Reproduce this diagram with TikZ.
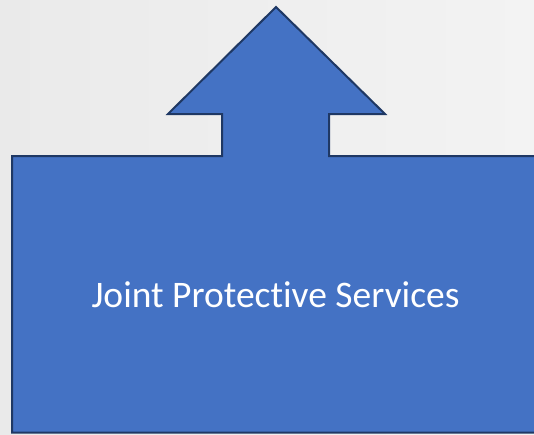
\documentclass[tikz,border=0pt]{standalone}
\usepackage{fontspec}
\setmainfont{Carlito}[Ligatures={NoCommon}]
\definecolor{boxfill}{HTML}{4472C4}
\definecolor{boxline}{HTML}{1F3864}
\definecolor{bgleft}{HTML}{EAEAEA}
\definecolor{bgright}{HTML}{F3F3F3}
\begin{document}
\begin{tikzpicture}[x=1pt,y=-1pt,
  callout/.style={fill=boxfill,draw=boxline,line width=2pt,line join=miter},
  label/.style={text=white,font=\fontsize{37.5}{42}\selectfont,inner sep=0pt}]
  \useasboundingbox (0,0) rectangle (534,434);
  \clip (0,0) rectangle (534,434);
  % soft left-to-right backdrop
  \shade[left color=bgleft,right color=bgright] (0,0) rectangle (534,434);
  % box with an upward arrow on its top edge
  \path[callout] (12,156) -- (222,156) -- (222,114) -- (168,114) -- (276,7)
    -- (385,114) -- (329,114) -- (329,156) -- (548,156) -- (548,432.5)
    -- (12,432.5) -- cycle;
  \node[label] (title) at (275.5,295) {Joint Protective Services};
\end{tikzpicture}
\end{document}
